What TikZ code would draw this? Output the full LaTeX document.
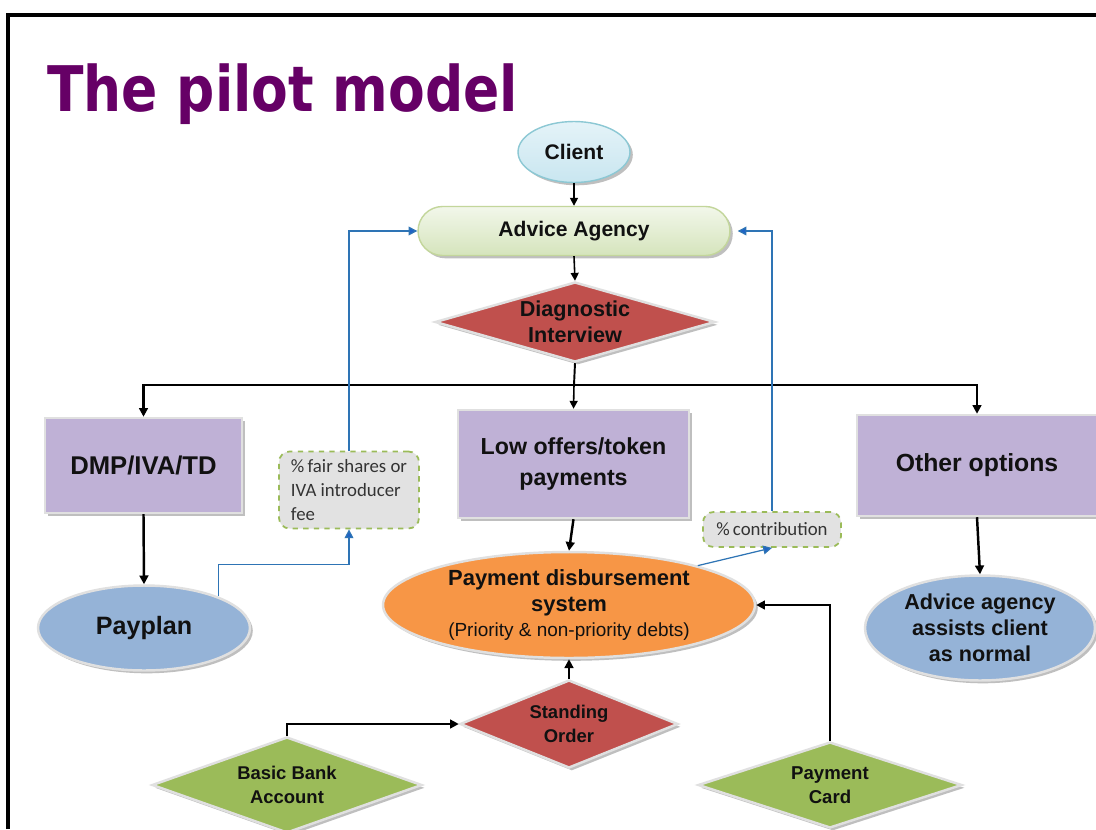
\documentclass[tikz,border=0pt]{standalone}
\usepackage{fontspec}
\setmainfont{Liberation Sans}
\newfontfamily\calfont{Carlito}
\newfontfamily\titlefont[FakeStretch=0.85]{DejaVu Sans}
\usetikzlibrary{shapes.geometric,shadows,arrows.meta,calc}
\definecolor{titlepurple}{HTML}{660066}
\definecolor{clientfill}{HTML}{C9E6F0}
\definecolor{clienttop}{HTML}{E4F3F8}
\definecolor{clientdraw}{HTML}{8CC8D4}
\definecolor{agtop}{HTML}{F2F7EA}
\definecolor{agbot}{HTML}{D5E4BC}
\definecolor{agdraw}{HTML}{C3D69B}
\definecolor{redfill}{HTML}{C0504D}
\definecolor{purplefill}{HTML}{BFB1D6}
\definecolor{orangefill}{HTML}{F79646}
\definecolor{bluefill}{HTML}{95B3D7}
\definecolor{greenfill}{HTML}{9BBB59}
\definecolor{callfill}{HTML}{E2E2E2}
\definecolor{bluelink}{HTML}{2E74B5}
\definecolor{bluetip}{HTML}{1F63C6}
\definecolor{txt}{HTML}{111111}
\tikzset{
  x=0.02cm, y=-0.02cm,
  shp/.style={draw=black!12, line width=1.4pt, text=txt, align=center, inner sep=0pt,
    drop shadow={shadow xshift=1.6pt, shadow yshift=-1.6pt, fill=black!45, opacity=0.55}},
  boxshape/.style={shp, rectangle, fill=purplefill},
  ellshape/.style={shp, ellipse},
  diashape/.style={shp, diamond, shape aspect=3},
  callout/.style={rectangle, rounded corners=6pt, fill=callfill, draw=greenfill, dashed,
    line width=1pt, text=black!80, inner sep=0pt},
  arr/.style={line width=1.4pt, -{Triangle[length=5pt,width=5pt]}},
  arrthin/.style={line width=0.9pt, -{Triangle[length=4.5pt,width=4.5pt]}},
  bluearr/.style={draw=bluelink, line width=0.7pt, -{Triangle[length=5pt,width=5pt,fill=bluetip]}},
}
\begin{document}
\begin{tikzpicture}
\useasboundingbox (0,0) rectangle (1096,829);
\fill[white] (0,0) rectangle (1096,829);
% frame
\draw[line width=1.8pt] (8,829) -- (8,15) -- (1096,15);
% title
\node[anchor=base west, inner sep=0pt, text=titlepurple, font=\titlefont\fontsize{35.8}{40}\selectfont\bfseries] (title) at (47,111) {The pilot model};

% nodes
\node[ellshape, minimum width=2.24cm, minimum height=1.22cm, top color=clienttop, bottom color=clientfill, draw=clientdraw, line width=0.8pt,
  font=\fontsize{12}{14}\selectfont\bfseries] (client) at (574,152) {Client};
\node[shp, rectangle, rounded corners=0.49cm, minimum width=6.24cm, minimum height=0.98cm, top color=agtop, bottom color=agbot, draw=agdraw, line width=0.8pt,
  font=\fontsize{12}{14}\selectfont\bfseries] (agency) at (574,231) {Advice Agency};
\node[diashape, shape aspect=3.5, minimum width=5.6cm, minimum height=1.6cm, fill=redfill,
  font=\fontsize{12.3}{14.7}\selectfont\bfseries] (diag) at (575,322) {Diagnostic\\Interview};

\node[boxshape, minimum width=3.94cm, minimum height=1.9cm,
  font=\fontsize{14.6}{17}\selectfont\bfseries] (dmp) at (143.5,465.5) {DMP/IVA/TD};
\node[boxshape, minimum width=4.62cm, minimum height=2.16cm,
  font=\fontsize{13.2}{17.6}\selectfont\bfseries] (low) at (573.5,464) {Low offers/token\\payments};
\node[boxshape, minimum width=4.8cm, minimum height=2.02cm,
  font=\fontsize{14.1}{17}\selectfont\bfseries] (other) at (977,465.5) {Other options};

\node[ellshape, minimum width=4.24cm, minimum height=1.7cm, fill=bluefill,
  font=\fontsize{14.3}{17}\selectfont\bfseries] (payplan) at (144,628) {Payplan};
\node[callout, minimum width=2.8cm, minimum height=1.54cm, align=left,
  font=\calfont\fontsize{10.7}{13.6}\selectfont] (fair) at (349,490) {\%\,fair shares or\\IVA introducer\\fee\phantom{ introducer}};
\node[ellshape, minimum width=7.44cm, minimum height=2.12cm, fill=orangefill,
  font=\fontsize{12.5}{14.8}\selectfont\bfseries] (pay) at (569,605)
  {Payment disbursement\\system\\[-1pt]{\fontsize{10.8}{13}\selectfont\mdseries (Priority \& non-priority debts)}};
\node[callout, minimum width=2.76cm, minimum height=0.7cm,
  font=\calfont\fontsize{10.7}{13}\selectfont] (contrib) at (772,529.5) {\%\,contribution};
\node[ellshape, minimum width=4.6cm, minimum height=2.1cm, fill=bluefill,
  font=\fontsize{12.3}{14.7}\selectfont\bfseries] (assist) at (980,628) {Advice agency\\assists client\\as normal};

\node[diashape, shape aspect=2.5, minimum width=4.36cm, minimum height=1.76cm, fill=redfill,
  font=\fontsize{10.5}{13.5}\selectfont\bfseries] (stand) at (569,724) {Standing\\Order};
\node[diashape, shape aspect=2.8, minimum width=5.4cm, minimum height=1.92cm, fill=greenfill,
  font=\fontsize{10.5}{13.5}\selectfont\bfseries] (bank) at (287,785) {Basic Bank\\Account};
\node[diashape, shape aspect=3, minimum width=5.28cm, minimum height=1.72cm, fill=greenfill,
  font=\fontsize{10.6}{13.5}\selectfont\bfseries] (card) at (830,785) {Payment\\Card};

% connectors
\coordinate (j) at (574,385);
\draw[arrthin] (client.south) -- (agency.north);
\draw[arrthin] (agency.south) -- (diag.north);
\draw[line width=1.1pt] (diag.south) -- (j);
\draw[arr] (j) -| (dmp.north);
\draw[arr] (j) -| (other.north);
\draw[arrthin] (j) -- (low.north);
\draw[arr] (dmp.south) -- (payplan.north);
\draw[arr] (low.south) -- (pay.north);
\draw[arr] (other.south) -- (assist.north);
\draw[arr] (stand.north) -- (pay.south);
\draw[arr] (bank.north) |- (stand.west);
\draw[arr] (card.north) |- (pay.east);

\draw[bluearr] (payplan.23) -- ++(0,-32) -| (fair.south);
\draw[bluearr] (fair.north) |- (agency.west);
\draw[bluearr] (pay.17) -- (contrib.south);
\draw[bluearr, shorten >=4pt] (contrib.north) |- (agency.east);
\end{tikzpicture}
\end{document}
